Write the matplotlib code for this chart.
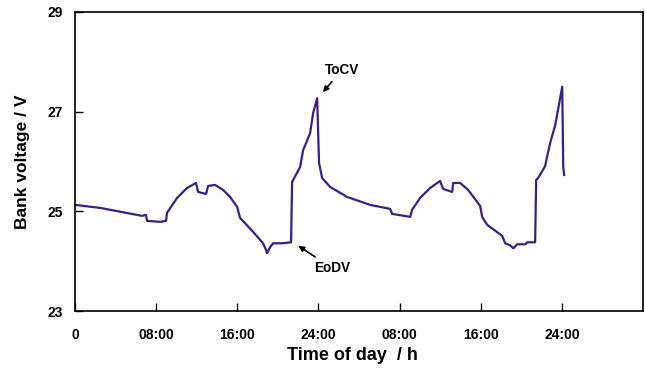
import matplotlib.pyplot as plt

plt.rcParams['font.family'] = ['Liberation Sans', 'DejaVu Sans']
plt.rcParams['font.weight'] = 'bold'

# Time in hours from start of logging
hours = [0.00, 2.47, 6.61, 7.00, 7.10, 8.38, 8.97, 9.07, 10.06, 11.05,
         11.93, 12.13, 12.92, 13.12, 13.81, 14.60, 15.29, 15.98, 16.27, 17.55,
         18.54, 18.84, 18.93, 19.23, 19.53, 20.41, 21.30, 21.40, 22.19, 22.49,
         23.18, 23.47, 23.87, 24.06, 24.36, 25.15, 26.82, 29.09, 31.07, 31.26,
         33.04, 33.23, 34.02, 35.01, 35.99, 36.29, 37.18, 37.28, 37.97, 38.76,
         39.94, 40.14, 40.63, 42.11, 42.41, 42.90, 43.20, 43.59, 44.38, 44.58,
         45.36, 45.46, 45.66, 46.35, 46.55, 46.84, 47.34, 48.03, 48.13, 48.22]

# Battery bank voltage (V)
voltage = [25.13, 25.07, 24.91, 24.93, 24.81, 24.79, 24.81, 24.97, 25.27, 25.47,
           25.57, 25.39, 25.35, 25.51, 25.53, 25.43, 25.29, 25.09, 24.87, 24.59,
           24.36, 24.22, 24.16, 24.28, 24.36, 24.36, 24.38, 25.59, 25.89, 26.23,
           26.57, 26.97, 27.27, 25.97, 25.67, 25.49, 25.29, 25.13, 25.05, 24.95,
           24.89, 25.03, 25.27, 25.47, 25.61, 25.45, 25.39, 25.57, 25.57, 25.43,
           25.11, 24.89, 24.73, 24.51, 24.36, 24.32, 24.26, 24.34, 24.34, 24.38,
           24.38, 25.63, 25.67, 25.91, 26.11, 26.37, 26.73, 27.50, 25.89, 25.73]

xticks = [0, 8, 16, 24, 32, 40, 48]
xtick_labels = ['0', '08:00', '16:00', '24:00', '08:00', '16:00', '24:00']
yticks = [23, 25, 27, 29]

fig = plt.figure(figsize=(6.45, 3.69), dpi=100)
ax = fig.add_axes([0.1163, 0.157, 0.8807, 0.8105])

ax.plot(hours, voltage, color='#3a1e8a', lw=1.6)

ax.set_xlim(0, 56)
ax.set_ylim(23, 29)
ax.set_xticks(xticks)
ax.set_xticklabels(xtick_labels)
ax.set_yticks(yticks)
ax.tick_params(direction='in', length=6, width=1, labelsize=10)
ax.tick_params(axis='x', pad=12)
ax.tick_params(axis='y', pad=9)
for lab in ax.get_xticklabels() + ax.get_yticklabels():
    lab.set_fontweight('bold')
for sp in ax.spines.values():
    sp.set_linewidth(1.2)

ax.set_xlabel('Time of day  / h', fontsize=13, fontweight='bold')
ax.xaxis.set_label_coords(0.488, -0.12)
ax.set_ylabel('Bank voltage / V', fontsize=12.5, fontweight='bold', labelpad=12)

arrow = dict(arrowstyle='-|>', color='black', lw=1.2, mutation_scale=8)
ax.annotate('ToCV', xy=(24.26, 27.35), xytext=(26.33, 27.84),
            fontsize=9.8, fontweight='bold', ha='center', va='center',
            arrowprops=arrow)
ax.annotate('EoDV', xy=(21.79, 24.34), xytext=(25.35, 23.86),
            fontsize=9.8, fontweight='bold', ha='center', va='center',
            arrowprops=arrow)

fig.savefig('out.png', dpi=100)
